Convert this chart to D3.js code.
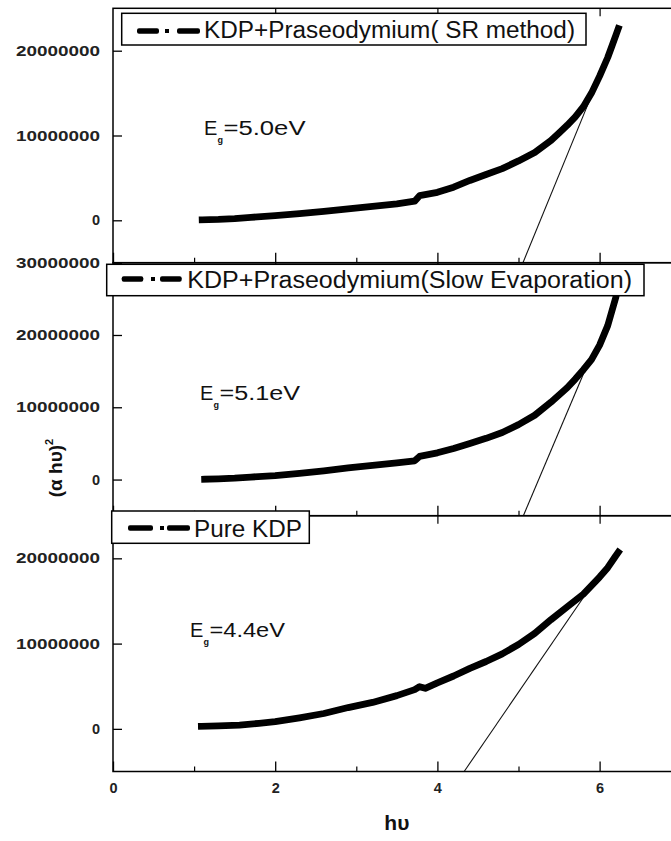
<!DOCTYPE html>
<html>
<head>
<meta charset="utf-8">
<script src="https://cdn.jsdelivr.net/npm/d3@7"></script>
<style>
  body { margin: 0; background: #fff; }
  svg { display: block; font-family: "Liberation Sans", Arial, sans-serif; }
</style>
</head>
<body>
<div id="chart"></div>
<script>
// (alpha h nu)^2 values are kept in units of 1e6
const UNIT = 1e6;

// KDP + Praseodymium (SR method)
const srHv  = [1.1, 1.3, 1.5, 1.7, 2.0, 2.3, 2.6, 2.9, 3.2, 3.5, 3.72, 3.78, 4.0, 4.2, 4.4, 4.6, 4.8, 5.0, 5.2, 5.4, 5.5, 5.6, 5.7, 5.8, 5.9, 6.0, 6.1, 6.15, 6.2, 6.23];
const srVal = [0.05, 0.1, 0.2, 0.35, 0.55, 0.8, 1.05, 1.35, 1.65, 1.95, 2.25, 2.9, 3.3, 3.9, 4.7, 5.4, 6.1, 7.0, 8.0, 9.4, 10.3, 11.2, 12.2, 13.4, 15.0, 17.0, 19.2, 20.5, 21.8, 22.6];

// KDP + Praseodymium (slow evaporation)
const seHv  = [1.13, 1.3, 1.5, 1.7, 2.0, 2.3, 2.6, 2.9, 3.2, 3.5, 3.72, 3.78, 4.0, 4.2, 4.4, 4.6, 4.8, 5.0, 5.2, 5.4, 5.5, 5.6, 5.7, 5.8, 5.9, 6.0, 6.1, 6.2, 6.25];
const seVal = [0.05, 0.1, 0.2, 0.35, 0.55, 0.85, 1.2, 1.6, 1.95, 2.3, 2.6, 3.2, 3.7, 4.3, 5.0, 5.7, 6.5, 7.6, 8.9, 10.7, 11.7, 12.7, 13.9, 15.2, 16.6, 18.6, 21.3, 25.2, 28];

// Pure KDP
const pureHv  = [1.09, 1.3, 1.56, 1.8, 2.0, 2.3, 2.6, 2.9, 3.2, 3.5, 3.72, 3.78, 3.85, 4.0, 4.2, 4.4, 4.6, 4.8, 5.0, 5.2, 5.4, 5.6, 5.8, 6.0, 6.1, 6.2, 6.23];
const pureVal = [0.3, 0.35, 0.45, 0.65, 0.85, 1.3, 1.8, 2.5, 3.1, 3.9, 4.6, 4.95, 4.75, 5.4, 6.2, 7.1, 7.9, 8.8, 9.9, 11.2, 12.8, 14.3, 15.8, 17.8, 18.9, 20.3, 20.7];

// extrapolated straight lines (two end points each)
const srFitHv = [5.055, 5.9],  srFitVal = [-5, 14.7];
const seFitHv = [5.06, 5.8],   seFitVal = [-5, 14.6];
const pureFitHv = [4.33, 5.8], pureFitVal = [-5, 15.4];

const legendNames = ["KDP+Praseodymium( SR method)", "KDP+Praseodymium(Slow Evaporation)", "Pure KDP"];
const egValues = ["5.0", "5.1", "4.4"];

const xDomain = [0, 7];
const xMajorTicks = [0, 2, 4, 6];
const xMinorTicks = [1, 3, 5];
const yDomains = [[-5, 25], [-5, 30], [-5, 25]];
const yTickVals = [[0, 10, 20], [0, 10, 20, 30], [0, 10, 20]];

// layout of the three stacked panels (pixels)
const W = 671, H = 841;
const left = 113, right = 680.7;
const layout = [
  { top: 8.3, bottom: 262.7,
    leg: { x: 121.7, y: 13.3, w: 464.3, h: 31.7, d1: [137, 159], dot: 167, d2: [177, 200], sy: 31, tx: 204, tb: 38.3, tw: 371 },
    eg: { x: 204, b: 135, gx: 217.5, eqx: 223.5, eqw: 82 } },
  { top: 262.7, bottom: 515.7,
    leg: { x: 106.7, y: 264.3, w: 537.3, h: 31.4, d1: [121.7, 143.3], dot: 153, d2: [160, 181.7], sy: 279, tx: 187.3, tb: 288.3, tw: 444.7 },
    eg: { x: 200, b: 400, gx: 213.5, eqx: 219.5, eqw: 80.5 } },
  { top: 515.7, bottom: 771.5,
    leg: { x: 111.7, y: 511, w: 197.6, h: 32.3, d1: [128, 153], dot: 162, d2: [167, 190], sy: 528, tx: 194, tb: 536.7, tw: 108 },
    eg: { x: 190, b: 636.7, gx: 203.5, eqx: 209.5, eqw: 75.5 } }
];

const series = [
  { hv: srHv, val: srVal, fitHv: srFitHv, fitVal: srFitVal },
  { hv: seHv, val: seVal, fitHv: seFitHv, fitVal: seFitVal },
  { hv: pureHv, val: pureVal, fitHv: pureFitHv, fitVal: pureFitVal }
];

let x = d3.scaleLinear().domain(xDomain).range([left, right]);

let svg = d3.select("#chart")
  .append("svg")
  .attr("width", W)
  .attr("height", H);

let defs = svg.append("defs");

layout.forEach(function(p, i) {
  let s = series[i];
  let y = d3.scaleLinear().domain(yDomains[i]).range([p.bottom, p.top]);
  let g = svg.append("g");

  defs.append("clipPath").attr("id", "clip" + i)
    .append("rect")
    .attr("x", left).attr("y", p.top)
    .attr("width", right - left).attr("height", p.bottom - p.top);

  let plot = g.append("g").attr("clip-path", "url(#clip" + i + ")");

  let line = d3.line()
    .x(function(d) { return x(d[0]); })
    .y(function(d) { return y(d[1]); });

  // straight extrapolation line
  plot.append("path")
    .datum(s.fitHv.map(function(h, k) { return [h, s.fitVal[k]]; }))
    .attr("d", line)
    .attr("fill", "none")
    .attr("stroke", "#111")
    .attr("stroke-width", 1.1);

  // data curve (dense square markers in the original)
  plot.append("path")
    .datum(s.hv.map(function(h, k) { return [h, s.val[k]]; }))
    .attr("d", line)
    .attr("fill", "none")
    .attr("stroke", "#000")
    .attr("stroke-width", 6.8)
    .attr("stroke-linejoin", "round")
    .attr("stroke-linecap", "square");

  // frame
  g.append("rect")
    .attr("x", left).attr("y", p.top)
    .attr("width", right - left).attr("height", p.bottom - p.top)
    .attr("fill", "none")
    .attr("stroke", "#000")
    .attr("stroke-width", 1.5);

  // y axis, ticks pointing inward
  let yAxis = g.append("g")
    .attr("transform", "translate(" + left + ",0)")
    .call(d3.axisLeft(y)
      .tickValues(yTickVals[i])
      .tickSizeInner(-9).tickSizeOuter(0).tickPadding(13)
      .tickFormat(function(v) { return d3.format("d")(v * UNIT); }));
  yAxis.select(".domain").remove();
  yAxis.selectAll("line").attr("stroke", "#000").attr("stroke-width", 1.3);
  yAxis.selectAll("text")
    .attr("fill", "#222")
    .attr("font-size", 14.5)
    .attr("font-weight", "bold")
    .attr("font-family", "'Liberation Sans', Arial, sans-serif")
    .each(function(v) {
      if (v !== 0) d3.select(this).attr("textLength", 84).attr("lengthAdjust", "spacingAndGlyphs");
    });

  // bottom axis, major + minor ticks pointing up
  let xb = g.append("g")
    .attr("transform", "translate(0," + p.bottom + ")")
    .call(d3.axisBottom(x)
      .tickValues(xMajorTicks)
      .tickSizeInner(-10).tickSizeOuter(0).tickPadding(11)
      .tickFormat(i === 2 ? d3.format("d") : function() { return ""; }));
  xb.select(".domain").remove();
  xb.selectAll("line").attr("stroke", "#000").attr("stroke-width", 1.3);
  xb.selectAll("text")
    .attr("fill", "#222")
    .attr("font-size", 14.5)
    .attr("font-weight", "bold")
    .attr("font-family", "'Liberation Sans', Arial, sans-serif");

  let xm = g.append("g")
    .attr("transform", "translate(0," + p.bottom + ")")
    .call(d3.axisBottom(x).tickValues(xMinorTicks)
      .tickSizeInner(-5).tickSizeOuter(0).tickFormat(""));
  xm.select(".domain").remove();
  xm.selectAll("line").attr("stroke", "#000").attr("stroke-width", 1.2);

  // top axis, ticks pointing down
  let xt = g.append("g")
    .attr("transform", "translate(0," + p.top + ")")
    .call(d3.axisTop(x).tickValues(xMajorTicks.slice(1))
      .tickSizeInner(-8).tickSizeOuter(0).tickFormat(""));
  xt.select(".domain").remove();
  xt.selectAll("line").attr("stroke", "#000").attr("stroke-width", 1.2);

  // band gap annotation
  let eg = g.append("g").attr("fill", "#111");
  eg.append("text")
    .attr("x", p.eg.x).attr("y", p.eg.b)
    .attr("font-size", 20)
    .text("E");
  eg.append("text")
    .attr("x", p.eg.gx).attr("y", p.eg.b + 8)
    .attr("font-size", 9)
    .attr("font-weight", "bold")
    .text("g");
  eg.append("text")
    .attr("x", p.eg.eqx).attr("y", p.eg.b)
    .attr("font-size", 20)
    .attr("textLength", p.eg.eqw)
    .attr("lengthAdjust", "spacingAndGlyphs")
    .text("=" + egValues[i] + "eV");

  // legend box
  let L = p.leg;
  let leg = g.append("g");
  leg.append("rect")
    .attr("x", L.x).attr("y", L.y)
    .attr("width", L.w).attr("height", L.h)
    .attr("fill", "#fff")
    .attr("stroke", "#000")
    .attr("stroke-width", 1.5);
  leg.append("rect")
    .attr("x", L.d1[0]).attr("y", L.sy - 2.8)
    .attr("width", L.d1[1] - L.d1[0]).attr("height", 5.6)
    .attr("rx", 2).attr("fill", "#000");
  leg.append("rect")
    .attr("x", L.dot - 2).attr("y", L.sy - 2)
    .attr("width", 4).attr("height", 4)
    .attr("fill", "#000");
  leg.append("rect")
    .attr("x", L.d2[0]).attr("y", L.sy - 2.8)
    .attr("width", L.d2[1] - L.d2[0]).attr("height", 5.6)
    .attr("rx", 2).attr("fill", "#000");
  leg.append("text")
    .attr("x", L.tx).attr("y", L.tb)
    .attr("font-size", 23.5)
    .attr("fill", "#111")
    .attr("textLength", L.tw)
    .attr("lengthAdjust", "spacingAndGlyphs")
    .text(legendNames[i]);
});

// axis titles
svg.append("text")
  .attr("x", (left + right) / 2)
  .attr("y", 830)
  .attr("text-anchor", "middle")
  .attr("font-size", 21)
  .attr("font-weight", "bold")
  .attr("fill", "#111")
  .text("h\u03c5");

let yTitle = svg.append("text")
  .attr("transform", "translate(62,468) rotate(-90)")
  .attr("text-anchor", "middle")
  .attr("font-size", 19)
  .attr("font-weight", "bold")
  .attr("fill", "#111");
yTitle.append("tspan").text("(\u03b1 h\u03c5)");
yTitle.append("tspan").attr("font-size", 11).attr("dy", -9).text("2");
</script>
</body>
</html>
